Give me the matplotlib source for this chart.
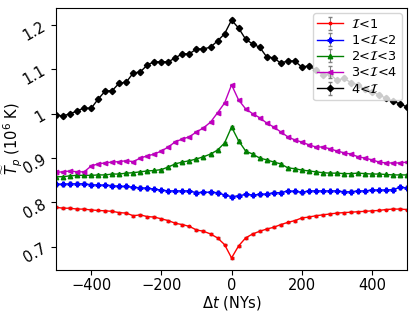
import numpy as np
import matplotlib
import matplotlib.pyplot as plt
matplotlib.use('agg')

# time offsets (NYs)
dt = np.arange(-500, 501, 20)

# median temperature per intensity class (10^6 K)
t_lt1 = [0.789, 0.787, 0.787, 0.785, 0.785, 0.783, 0.782, 0.781, 0.780, 0.777,
         0.776, 0.770, 0.772, 0.768, 0.767, 0.763, 0.759, 0.753, 0.750, 0.746,
         0.738, 0.735, 0.729, 0.720, 0.705, 0.675, 0.702, 0.720, 0.729, 0.735,
         0.740, 0.744, 0.750, 0.755, 0.759, 0.765, 0.767, 0.770, 0.772, 0.774,
         0.776, 0.777, 0.778, 0.779, 0.780, 0.781, 0.782, 0.784, 0.785, 0.785,
         0.784]
t_1_2 = [0.841, 0.841, 0.842, 0.842, 0.842, 0.840, 0.839, 0.839, 0.838, 0.836,
         0.836, 0.834, 0.833, 0.832, 0.830, 0.828, 0.826, 0.826, 0.826, 0.826,
         0.822, 0.823, 0.823, 0.822, 0.817, 0.813, 0.815, 0.818, 0.817, 0.818,
         0.819, 0.822, 0.822, 0.826, 0.825, 0.823, 0.826, 0.826, 0.826, 0.826,
         0.826, 0.824, 0.824, 0.826, 0.826, 0.828, 0.828, 0.828, 0.829, 0.834,
         0.833]
t_2_3 = [0.858, 0.858, 0.860, 0.861, 0.861, 0.861, 0.862, 0.862, 0.864, 0.864,
         0.866, 0.867, 0.869, 0.871, 0.872, 0.874, 0.880, 0.887, 0.891, 0.894,
         0.898, 0.903, 0.909, 0.918, 0.934, 0.970, 0.939, 0.916, 0.909, 0.900,
         0.896, 0.891, 0.887, 0.878, 0.876, 0.873, 0.871, 0.869, 0.867, 0.866,
         0.866, 0.865, 0.865, 0.866, 0.865, 0.864, 0.864, 0.863, 0.862, 0.862,
         0.862]
t_3_4 = [0.868, 0.869, 0.871, 0.869, 0.869, 0.882, 0.887, 0.889, 0.891, 0.892,
         0.894, 0.892, 0.900, 0.905, 0.909, 0.916, 0.925, 0.937, 0.943, 0.948,
         0.959, 0.968, 0.981, 1.002, 1.024, 1.065, 1.031, 1.011, 1.000, 0.991,
         0.979, 0.970, 0.959, 0.948, 0.941, 0.936, 0.930, 0.925, 0.925, 0.921,
         0.916, 0.912, 0.909, 0.903, 0.900, 0.896, 0.891, 0.889, 0.889, 0.889,
         0.891]
t_gt4 = [0.997, 0.995, 1.000, 1.006, 1.013, 1.012, 1.033, 1.051, 1.052, 1.069,
         1.071, 1.092, 1.094, 1.110, 1.117, 1.117, 1.117, 1.126, 1.135, 1.135,
         1.146, 1.146, 1.150, 1.164, 1.180, 1.211, 1.193, 1.168, 1.157, 1.150,
         1.128, 1.126, 1.114, 1.119, 1.119, 1.105, 1.108, 1.099, 1.088, 1.090,
         1.075, 1.080, 1.070, 1.065, 1.055, 1.050, 1.042, 1.035, 1.028, 1.022,
         1.015]

series = [t_lt1, t_1_2, t_2_3, t_3_4, t_gt4]
labels = [r'$\mathcal{I}$<1', r'1<$\mathcal{I}$<2', r'2<$\mathcal{I}$<3',
          r'3<$\mathcal{I}$<4', r'4<$\mathcal{I}$']
errors = [0.002, 0.003, 0.002, 0.002, 0.004]
colors = ['red', 'blue', 'green', 'm', 'black']
markers = ['.', 'P', '^', '<', 'D']
msizes = [3.5, 3.5, 3.2, 3.2, 3.2]

plt.rcParams['font.size'] = 10.5

fig = plt.figure(figsize=(4.15, 3.12), dpi=100)
ax = fig.add_axes([0.135, 0.135, 0.846, 0.839])

for vals, lab, err, c, m, ms in zip(series, labels, errors, colors, markers, msizes):
    ax.errorbar(dt, vals, yerr=err, color=c, marker=m, markersize=ms,
                linewidth=1, ecolor='gray', elinewidth=0.8, capsize=1.5,
                label=lab)

ax.set_xlim(-500, 500)
ax.set_ylim(0.648, 1.238)
ax.set_xticks([-400, -200, 0, 200, 400])
ax.set_yticks([0.7, 0.8, 0.9, 1.0, 1.1, 1.2])
ax.set_yticklabels(['0.7', '0.8', '0.9', '1', '1.1', '1.2'], rotation=30)
ax.tick_params(axis='x', pad=2)
ax.tick_params(axis='y', pad=2)
ax.set_xlabel(r'$\Delta t$ (NYs)', labelpad=1)
ax.set_ylabel(r'$\widetilde{T}_p$ (10$^6$ K)')
ax.yaxis.set_label_coords(-0.092, 0.5)
ax.legend(loc='upper right', fontsize=9.3, handlelength=2, borderpad=0.35,
          labelspacing=0.25, borderaxespad=0.4, handletextpad=0.6)

plt.savefig('out.png')
plt.close()
